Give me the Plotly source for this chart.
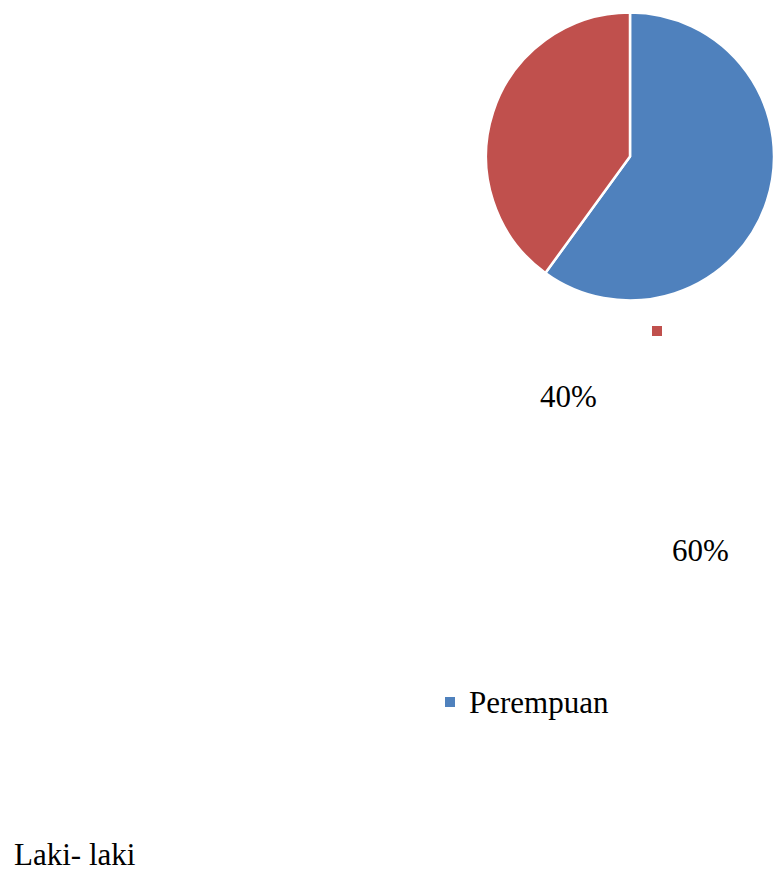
import plotly.graph_objects as go

W, H = 774, 871

labels = ["Perempuan", "Laki- laki"]
values = [60, 40]
colors = ["#4F81BD", "#C0504D"]
pct_labels = ["60%", "40%"]

def px(x):
    return x / W

def py(y):
    return 1 - y / H

# pie placement (pixels)
cx, cy, r = 630, 156.5, 144

fig = go.Figure()
fig.add_trace(go.Pie(
    labels=labels,
    values=values,
    marker=dict(colors=colors, line=dict(color="white", width=2.5)),
    sort=False,
    direction="clockwise",
    rotation=0,
    textinfo="none",
    hoverinfo="label+percent",
    showlegend=False,
    domain=dict(x=[px(cx - r), 1.0], y=[py(cy + r), py(cy - r)]),
))

font = dict(family="'Times New Roman', 'Liberation Serif', 'DejaVu Serif', serif",
            size=31, color="black")

annotations = [
    dict(text=pct_labels[1], x=px(568), y=py(396)),
    dict(text=pct_labels[0], x=px(700.5), y=py(550)),
    dict(text=labels[0], x=px(467), y=py(702), xanchor="left"),
    dict(text=labels[1], x=px(12), y=py(854), xanchor="left"),
]
for a in annotations:
    a.setdefault("xanchor", "center")
    fig.add_annotation(xref="paper", yref="paper", yanchor="middle",
                       showarrow=False, font=font, **a)

# legend markers
squares = [(450, 702, colors[0]), (657, 331, colors[1])]
for sx, sy, c in squares:
    fig.add_shape(type="rect", xref="paper", yref="paper",
                  x0=px(sx - 5), x1=px(sx + 5), y0=py(sy + 5), y1=py(sy - 5),
                  fillcolor=c, line=dict(width=0))

fig.update_layout(
    width=W, height=H,
    margin=dict(l=0, r=0, t=0, b=0),
    paper_bgcolor="white",
    plot_bgcolor="white",
    font=font,
)

fig.write_html("out.html")
